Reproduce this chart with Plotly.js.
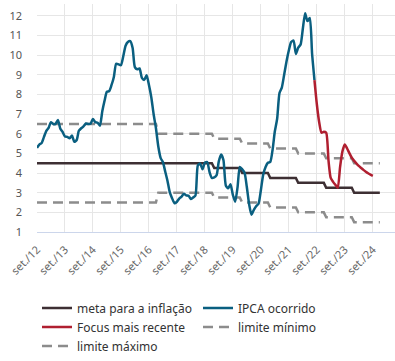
<!DOCTYPE html>
<html>
<head>
<meta charset="utf-8">
<script src="https://cdn.plot.ly/plotly-3.0.1.min.js"></script>
<style>
html,body{margin:0;padding:0;background:#fff;}
#chart{width:395px;height:361px;}
</style>
</head>
<body>
<div id="chart"></div>
<script>
// IPCA 12-month, monthly from Sep 2012 to Aug 2022
const ipcaStart = [2012, 9];
const ipcaValues = [
  5.28, 5.45, 5.53, 5.84,
  6.15, 6.31, 6.59, 6.49, 6.50, 6.70, 6.27, 6.09, 5.86, 5.84, 5.77, 5.91,
  5.59, 5.68, 6.15, 6.28, 6.37, 6.52, 6.50, 6.51, 6.75, 6.59, 6.56, 6.41,
  7.14, 7.70, 8.13, 8.17, 8.47, 8.89, 9.56, 9.53, 9.49, 9.93, 10.48, 10.67,
  10.71, 10.36, 9.39, 9.28, 9.32, 8.84, 8.74, 8.97, 8.48, 7.87, 6.99, 6.29,
  5.35, 4.76, 4.57, 4.08, 3.60, 3.00, 2.71, 2.46, 2.54, 2.70, 2.80, 2.95,
  2.86, 2.84, 2.68, 2.76, 2.86, 4.39, 4.48, 4.19, 4.53, 4.56, 4.05, 3.75,
  3.78, 3.89, 4.58, 4.94, 4.66, 3.37, 3.22, 3.43, 2.89, 2.54, 3.27, 4.31,
  4.19, 4.01, 3.30, 2.40, 1.88, 2.13, 2.31, 2.44, 3.14, 3.92, 4.31, 4.52,
  4.56, 5.20, 6.10, 6.76, 8.06, 8.35, 8.99, 9.68, 10.25, 10.67, 10.74, 10.06,
  10.38, 10.54, 11.30, 12.13, 11.73, 11.89, 10.07, 8.73
];
// Focus expectations, monthly from Aug 2022 to Sep 2024
const focusStart = [2022, 8];
const focusValues = [
  8.73, 7.50, 6.60, 6.05, 6.10, 6.05,
  4.60, 3.75, 3.55, 3.40, 3.25, 4.30, 5.10, 5.45, 5.25, 5.00, 4.78,
  4.62, 4.48, 4.36, 4.26, 4.16, 4.07, 3.99, 3.92, 3.86
];
// Target and tolerance band by year
const targetYears = [2012, 2013, 2014, 2015, 2016, 2017, 2018, 2019, 2020, 2021, 2022, 2023, 2024];
const targetValues = [4.5, 4.5, 4.5, 4.5, 4.5, 4.5, 4.5, 4.25, 4.0, 3.75, 3.5, 3.25, 3.0];
const upperValues  = [6.5, 6.5, 6.5, 6.5, 6.5, 6.0, 6.0, 5.75, 5.5, 5.25, 5.0, 4.75, 4.5];
const lowerValues  = [2.5, 2.5, 2.5, 2.5, 2.5, 3.0, 3.0, 2.75, 2.5, 2.25, 2.0, 1.75, 1.5];
const tickYears = [2012, 2013, 2014, 2015, 2016, 2017, 2018, 2019, 2020, 2021, 2022, 2023, 2024];
const tickLabels = ["set./12","set./13","set./14","set./15","set./16","set./17","set./18","set./19","set./20","set./21","set./22","set./23","set./24"];
const seriesNames = ["meta para a inflação", "IPCA ocorrido", "Focus mais recente", "limite mínimo", "limite máximo"];

function monthDates(start, n) {
  const out = [];
  let y = start[0], m = start[1];
  for (let i = 0; i < n; i++) {
    out.push(y + "-" + String(m).padStart(2, "0") + "-01");
    m++; if (m > 12) { m = 1; y++; }
  }
  return out;
}
function stepSeries(years, vals) {
  const xs = [], ys = [];
  years.forEach((yr, i) => {
    xs.push(yr === 2012 ? "2012-09-01" : yr + "-01-01");
    ys.push(vals[i]);
    xs.push(yr + "-12-01");
    ys.push(vals[i]);
  });
  return {x: xs, y: ys};
}

const meta = stepSeries(targetYears, targetValues);
const up = stepSeries(targetYears, upperValues);
const lo = stepSeries(targetYears, lowerValues);

const dashGray = {color: "#8c8c8c", width: 2.5, dash: "10px,6px"};
const traces = [
  {x: lo.x, y: lo.y, name: seriesNames[3], mode: "lines", line: dashGray, legendrank: 4},
  {x: up.x, y: up.y, name: seriesNames[4], mode: "lines", line: dashGray, legendrank: 5},
  {x: meta.x, y: meta.y, name: seriesNames[0], mode: "lines", line: {color: "#3d2f33", width: 2.5}, legendrank: 1},
  {x: monthDates(ipcaStart, ipcaValues.length), y: ipcaValues, name: seriesNames[1], mode: "lines",
   line: {color: "#0a5f80", width: 2.5, shape: "spline", smoothing: 0.6}, legendrank: 2},
  {x: monthDates(focusStart, focusValues.length), y: focusValues, name: seriesNames[2], mode: "lines",
   line: {color: "#b01f30", width: 2.5, shape: "spline", smoothing: 0.6}, legendrank: 3}
];

const layout = {
  width: 395, height: 361,
  margin: {l: 37, r: 0, t: 4, b: 126},
  paper_bgcolor: "#fff", plot_bgcolor: "#fff",
  font: {family: "Noto Sans, DejaVu Sans, sans-serif", color: "#333"},
  showlegend: true,
  legend: {
    orientation: "h", x: 0, xanchor: "left", y: -0.27, yanchor: "top",
    entrywidth: 116, entrywidthmode: "pixels",
    font: {size: 12, color: "#333"}, bgcolor: "rgba(0,0,0,0)"
  },
  xaxis: {
    type: "date",
    range: ["2012-09-01", "2025-06-17"],
    tickvals: tickYears.map(y => y + "-09-01"),
    ticktext: tickLabels,
    tickangle: -45,
    tickfont: {size: 11, color: "#666"},
    ticklabelstandoff: 6,
    showgrid: true, gridcolor: "#e6e6e6", gridwidth: 1,
    showline: true, linecolor: "#ccd6eb", linewidth: 1,
    ticks: "", zeroline: false, fixedrange: true
  },
  yaxis: {
    range: [1, 12.6],
    tickvals: [1,2,3,4,5,6,7,8,9,10,11,12],
    tickfont: {size: 11, color: "#555"},
    showgrid: true, gridcolor: "#e6e6e6", gridwidth: 1,
    zeroline: false, showline: false, ticks: "",
    ticklabelstandoff: 14, fixedrange: true
  },
  hovermode: false
};

Plotly.newPlot("chart", traces, layout, {displayModeBar: false, staticPlot: true});
</script>
</body>
</html>
